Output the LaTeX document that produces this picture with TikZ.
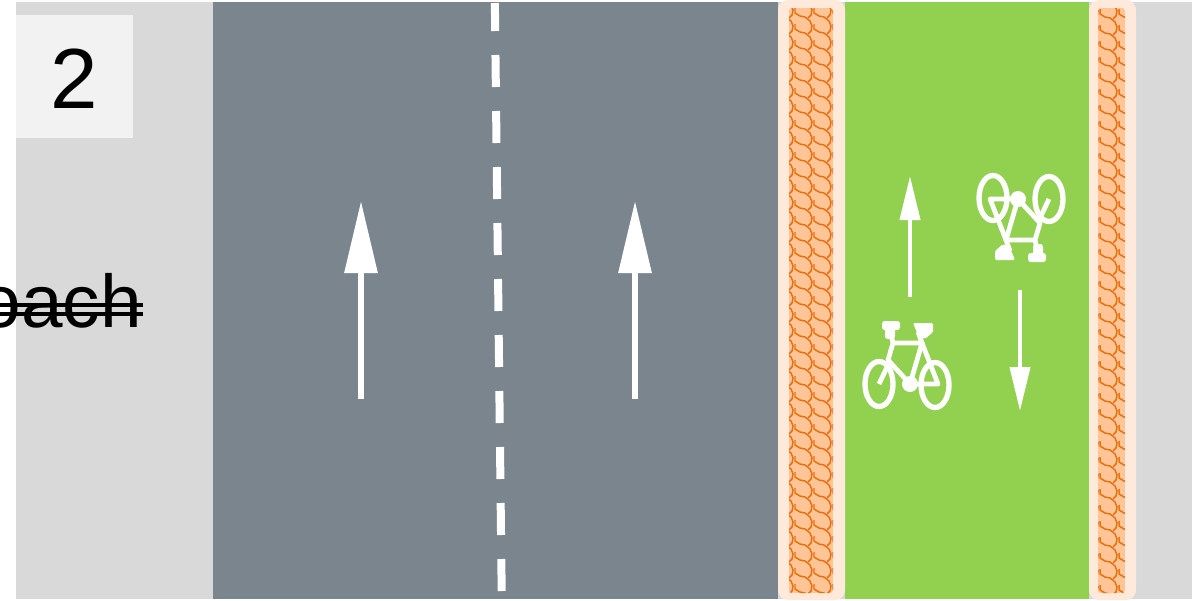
\documentclass[tikz,border=0pt]{standalone}
\usepackage{fontspec}
\setmainfont{Liberation Sans}
\usetikzlibrary{arrows.meta}
\definecolor{groundGray}{HTML}{D9D9D9}
\definecolor{roadSlate}{HTML}{7B858E}
\definecolor{laneGreen}{HTML}{92D050}
\definecolor{bufferPale}{HTML}{FFE9DB}
\definecolor{bufferFill}{HTML}{FFC596}
\definecolor{bufferLine}{HTML}{E9700F}
\definecolor{labelGray}{HTML}{F2F2F2}
\tikzset{
  roadArrow/.style={-{Triangle[length=54pt,width=24pt]}, white, line width=4.5pt},
  laneArrow/.style={-{Triangle[length=33pt,width=15pt]}, white, line width=3pt},
  scaleLine/.style={bufferLine, line width=1.1pt, line join=miter},
  bicycle/.pic={
    \draw[white, line width=4pt] (-28,19) ellipse [x radius=14, y radius=22.5];
    \draw[white, line width=4pt] (28,20) ellipse [x radius=14, y radius=22.5];
    \draw[white, line width=3.6pt, line join=round] (-28,19)--(-19,0) (-14,-22)--(15,-22)--(31,19)--(3,19)--(-19,-5)--(-14,-22)--(-17,-35);
    \draw[white, line width=3.6pt] (3,19)--(15,-22)--(11,-33);
    \fill[white] (3,19) circle [radius=8];
    \fill[white, rounded corners=2pt] (-25,-44) rectangle (-7,-35) (-22,-38) rectangle (-12,-26);
    \fill[white, rounded corners=1pt] (6,-42)--(26,-42)--(26,-33)--(18,-26)--(11,-30)--cycle;
  }
}
\newcommand{\scaletile}[2]{%
  \draw[scaleLine] (#1,#2-5)--(#1,#2)--(#1+5,#2+3)--(#1+10,#2+4)--(#1+15,#2+8)--(#1+17,#2+13)--(#1+16,#2+18)--(#1+13,#2+21);
}
\begin{document}
\begin{tikzpicture}[x=0.75pt, y=-0.75pt]
  \clip (0,0) rectangle (1194,600);
  % ground and lanes
  \fill[groundGray] (16,2) rectangle (1192,599);
  \fill[roadSlate] (213,2) rectangle (778,599);
  \fill[laneGreen] (845,2) rectangle (1089,599);
  % buffer strips
  \fill[bufferPale, rounded corners=7.5pt] (778,0) rectangle (845,600);
  \fill[bufferPale, rounded corners=7.5pt] (1089,0) rectangle (1136,600);
  \begin{scope}
    \path[clip, rounded corners=2pt] (789,8) rectangle (833,593);
    \fill[bufferFill] (789,8) rectangle (833,593);
    \foreach \i in {-1,...,2}
      \foreach \j in {-1,...,36}{
        \scaletile{\i*19+795}{\j*16+13}
      }
  \end{scope}
  \begin{scope}
    \path[clip, rounded corners=2pt] (1098,8) rectangle (1125,593);
    \fill[bufferFill] (1098,8) rectangle (1125,593);
    \foreach \i in {-1,...,1}
      \foreach \j in {-1,...,36}{
        \scaletile{\i*19+1100}{\j*16+14}
      }
  \end{scope}
  % centre line
  \foreach \ya/\yb in {3/31,55/87,111/143,167/199,223/255,279/311,335/367,391/423,447/479,503/535,559/591}{
    \coordinate (dashTop) at ({495+(\ya-15)*0.0116},\ya);
    \coordinate (dashEnd) at ({495+(\yb-15)*0.0116},\yb);
    \draw[white, line width=6pt] (dashTop)--(dashEnd);
  }
  % road arrows
  \foreach \name/\xa in {roadA/361,roadB/635}{
    \coordinate (\name foot) at (\xa,399);
    \coordinate (\name tip) at (\xa,201);
    \draw[roadArrow] (\name foot)--(\name tip);
  }
  % lane arrows
  \coordinate (upFoot) at (910,297);
  \coordinate (upTip) at (910,176);
  \coordinate (downFoot) at (1020,290);
  \coordinate (downTip) at (1020,411);
  \draw[laneArrow] (upFoot)--(upTip);
  \draw[laneArrow] (downFoot)--(downTip);
  % bicycles
  \pic at (907,365) {bicycle};
  \pic[rotate=180] at (1021,218) {bicycle};
  % labels
  \node[fill=labelGray, minimum width=87.75pt, minimum height=92.25pt, inner sep=0pt, anchor=north west] (numBox) at (16,15) {};
  \node[font=\fontsize{64}{64}\selectfont, inner sep=0pt, anchor=base] (numText) at (74.5,108) {2};
  \node[font=\fontsize{56}{56}\selectfont, inner sep=0pt, anchor=base east] (cutText) at (142,327) {oach};
  \draw[black, line width=2.4pt] (0,305)--(143,305) (0,314)--(143,314);
\end{tikzpicture}
\end{document}
